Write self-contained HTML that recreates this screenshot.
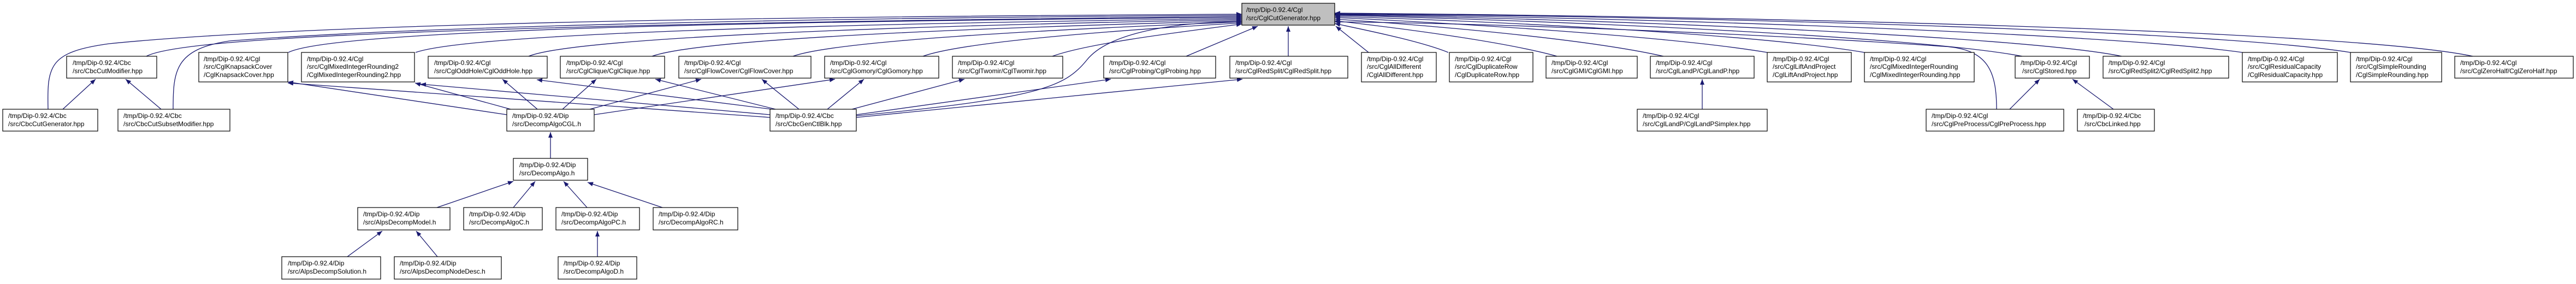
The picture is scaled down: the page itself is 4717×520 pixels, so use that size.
<!DOCTYPE html>
<html><head><meta charset="utf-8"><style>
html,body{margin:0;padding:0;background:#fff;width:4717px;height:520px;overflow:hidden}
svg{display:block}
text{font-family:"Liberation Sans",Arial,sans-serif;font-size:12px;fill:#000}
.e{fill:none;stroke:#191970;stroke-width:1.3}
.b{fill:#fff;stroke:#000;stroke-width:1.2}
</style></head><body>
<svg width="4717" height="520" viewBox="0 0 4717 520" xmlns="http://www.w3.org/2000/svg">
<defs><marker id="a" markerWidth="11" markerHeight="8" refX="10" refY="4" orient="auto" markerUnits="userSpaceOnUse"><path d="M0,0 L10,4 L0,8 z" fill="#191970"/></marker></defs>
<g class="e" marker-end="url(#a)">
<!-- edges to CglCutGenerator from left -->
<path d="M88,200 C86,120 90,95 200,80 C600,40 1500,30 2274,26"/>
<path d="M317,200 C317,130 320,90 420,75 C800,45 1600,32 2274,28"/>
<path d="M268,103 C330,70 800,45 2274,30"/>
<path d="M528,96 C600,60 1200,40 2274,32"/>
<path d="M761,96 C850,65 1400,45 2274,34"/>
<path d="M968,103 C1050,70 1600,48 2274,36"/>
<path d="M1194,103 C1280,72 1750,52 2274,38"/>
<path d="M1452,103 C1530,75 1900,55 2274,40"/>
<path d="M1690,103 C1760,78 2000,58 2274,42"/>
<path d="M1927,103 C1990,80 2150,60 2274,44"/>
<path d="M2172,103 L2303,48"/>
<path d="M2359,103 L2359,48"/>
<path d="M1568,212 C1900,180 1950,160 1990,110 C2030,60 2150,40 2274,40"/>
<!-- from right -->
<path d="M2506,96 L2446,48"/>
<path d="M2652,96 C2600,75 2500,55 2444,43"/>
<path d="M2851,103 C2750,75 2550,50 2444,38"/>
<path d="M3046,103 C2900,70 2600,45 2444,35"/>
<path d="M3236,96 C3050,65 2650,42 2444,32"/>
<path d="M3414,96 C3200,60 2700,38 2444,30"/>
<path d="M3703,103 C3500,65 2800,36 2444,28"/>
<path d="M3885,103 C3700,65 2900,34 2444,27"/>
<path d="M4106,96 C3850,60 3000,32 2444,26"/>
<path d="M4304,96 C4050,55 3100,30 2444,25"/>
<path d="M4528,103 C4300,55 3200,30 2444,24"/>
<path d="M3656,200 C3656,130 3640,90 3560,85 C3200,60 2700,42 2444,40"/>
<!-- CGL -->
<path d="M928,210 L527,150"/>
<path d="M935,200 L760,152"/>
<path d="M984,200 L920,145"/>
<path d="M1030,200 L1092,145"/>
<path d="M1080,200 L1284,145"/>
<path d="M1088,210 L1529,145"/>
<!-- GCB -->
<path d="M1410,215 L527,152"/>
<path d="M1410,210 L770,154"/>
<path d="M1413,200 L983,146"/>
<path d="M1420,200 L1200,145"/>
<path d="M1463,200 L1395,145"/>
<path d="M1515,200 L1582,145"/>
<path d="M1560,200 L1766,145"/>
<path d="M1568,210 L2034,145"/>
<path d="M1568,215 L2275,145"/>
<!-- misc -->
<path d="M115,200 L175,145"/>
<path d="M295,200 L230,145"/>
<path d="M3117,200 L3117,145"/>
<path d="M3680,200 L3735,145"/>
<path d="M3870,200 L3795,145"/>
<path d="M1008,290 L1008,242"/>
<path d="M800,380 L940,332"/>
<path d="M940,380 L980,332"/>
<path d="M1075,380 L1032,332"/>
<path d="M1213,380 L1076,334"/>
<path d="M636,470 L700,423"/>
<path d="M801,470 L762,423"/>
<path d="M1094,470 L1094,423"/>
</g>
<!-- nodes -->
<g>
<rect x="2274" y="6" width="170" height="40" fill="#bfbfbf" stroke="#000" stroke-width="1.2"/>
<text x="2282" y="22">/tmp/Dip-0.92.4/Cgl</text><text x="2282" y="37">/src/CglCutGenerator.hpp</text>
</g>
<g id="n">
<rect class="b" x="122" y="103" width="165" height="40"/><text x="133" y="119">/tmp/Dip-0.92.4/Cbc</text><text x="133" y="134">/src/CbcCutModifier.hpp</text>
<rect class="b" x="364" y="96" width="163" height="54"/><text x="373" y="112">/tmp/Dip-0.92.4/Cgl</text><text x="373" y="126">/src/CglKnapsackCover</text><text x="373" y="141">/CglKnapsackCover.hpp</text>
<rect class="b" x="552" y="96" width="207" height="54"/><text x="562" y="112">/tmp/Dip-0.92.4/Cgl</text><text x="562" y="126">/src/CglMixedIntegerRounding2</text><text x="562" y="141">/CglMixedIntegerRounding2.hpp</text>
<rect class="b" x="784" y="103" width="218" height="40"/><text x="795" y="119">/tmp/Dip-0.92.4/Cgl</text><text x="795" y="134">/src/CglOddHole/CglOddHole.hpp</text>
<rect class="b" x="1026" y="103" width="191" height="40"/><text x="1037" y="119">/tmp/Dip-0.92.4/Cgl</text><text x="1037" y="134">/src/CglClique/CglClique.hpp</text>
<rect class="b" x="1243" y="103" width="242" height="40"/><text x="1253" y="119">/tmp/Dip-0.92.4/Cgl</text><text x="1253" y="134">/src/CglFlowCover/CglFlowCover.hpp</text>
<rect class="b" x="1510" y="103" width="209" height="40"/><text x="1520" y="119">/tmp/Dip-0.92.4/Cgl</text><text x="1520" y="134">/src/CglGomory/CglGomory.hpp</text>
<rect class="b" x="1744" y="103" width="202" height="40"/><text x="1754" y="119">/tmp/Dip-0.92.4/Cgl</text><text x="1754" y="134">/src/CglTwomir/CglTwomir.hpp</text>
<rect class="b" x="2021" y="103" width="205" height="40"/><text x="2031" y="119">/tmp/Dip-0.92.4/Cgl</text><text x="2031" y="134">/src/CglProbing/CglProbing.hpp</text>
<rect class="b" x="2252" y="103" width="216" height="40"/><text x="2262" y="119">/tmp/Dip-0.92.4/Cgl</text><text x="2262" y="134">/src/CglRedSplit/CglRedSplit.hpp</text>
<rect class="b" x="2493" y="96" width="137" height="54"/><text x="2503" y="112">/tmp/Dip-0.92.4/Cgl</text><text x="2503" y="126">/src/CglAllDifferent</text><text x="2503" y="141">/CglAllDifferent.hpp</text>
<rect class="b" x="2654" y="96" width="153" height="54"/><text x="2664" y="112">/tmp/Dip-0.92.4/Cgl</text><text x="2664" y="126">/src/CglDuplicateRow</text><text x="2664" y="141">/CglDuplicateRow.hpp</text>
<rect class="b" x="2831" y="103" width="167" height="40"/><text x="2841" y="119">/tmp/Dip-0.92.4/Cgl</text><text x="2841" y="134">/src/CglGMI/CglGMI.hpp</text>
<rect class="b" x="3022" y="103" width="190" height="40"/><text x="3032" y="119">/tmp/Dip-0.92.4/Cgl</text><text x="3032" y="134">/src/CglLandP/CglLandP.hpp</text>
<rect class="b" x="3236" y="96" width="154" height="54"/><text x="3246" y="112">/tmp/Dip-0.92.4/Cgl</text><text x="3246" y="126">/src/CglLiftAndProject</text><text x="3246" y="141">/CglLiftAndProject.hpp</text>
<rect class="b" x="3414" y="96" width="201" height="54"/><text x="3424" y="112">/tmp/Dip-0.92.4/Cgl</text><text x="3424" y="126">/src/CglMixedIntegerRounding</text><text x="3424" y="141">/CglMixedIntegerRounding.hpp</text>
<rect class="b" x="3690" y="103" width="136" height="40"/><text x="3700" y="119">/tmp/Dip-0.92.4/Cgl</text><text x="3703" y="134">/src/CglStored.hpp</text>
<rect class="b" x="3851" y="103" width="230" height="40"/><text x="3861" y="119">/tmp/Dip-0.92.4/Cgl</text><text x="3861" y="134">/src/CglRedSplit2/CglRedSplit2.hpp</text>
<rect class="b" x="4106" y="96" width="174" height="54"/><text x="4116" y="112">/tmp/Dip-0.92.4/Cgl</text><text x="4116" y="126">/src/CglResidualCapacity</text><text x="4116" y="141">/CglResidualCapacity.hpp</text>
<rect class="b" x="4304" y="96" width="167" height="54"/><text x="4314" y="112">/tmp/Dip-0.92.4/Cgl</text><text x="4314" y="126">/src/CglSimpleRounding</text><text x="4314" y="141">/CglSimpleRounding.hpp</text>
<rect class="b" x="4495" y="103" width="217" height="40"/><text x="4505" y="119">/tmp/Dip-0.92.4/Cgl</text><text x="4505" y="134">/src/CglZeroHalf/CglZeroHalf.hpp</text>

<rect class="b" x="5" y="200" width="174" height="40"/><text x="15" y="216">/tmp/Dip-0.92.4/Cbc</text><text x="15" y="231">/src/CbcCutGenerator.hpp</text>
<rect class="b" x="216" y="200" width="205" height="40"/><text x="226" y="216">/tmp/Dip-0.92.4/Cbc</text><text x="226" y="231">/src/CbcCutSubsetModifier.hpp</text>
<rect class="b" x="928" y="200" width="160" height="40"/><text x="938" y="216">/tmp/Dip-0.92.4/Dip</text><text x="938" y="231">/src/DecompAlgoCGL.h</text>
<rect class="b" x="1410" y="200" width="158" height="40"/><text x="1420" y="216">/tmp/Dip-0.92.4/Cbc</text><text x="1420" y="231">/src/CbcGenCtlBlk.hpp</text>
<rect class="b" x="2998" y="200" width="238" height="40"/><text x="3008" y="216">/tmp/Dip-0.92.4/Cgl</text><text x="3008" y="231">/src/CglLandP/CglLandPSimplex.hpp</text>
<rect class="b" x="3527" y="200" width="252" height="40"/><text x="3537" y="216">/tmp/Dip-0.92.4/Cgl</text><text x="3537" y="231">/src/CglPreProcess/CglPreProcess.hpp</text>
<rect class="b" x="3804" y="200" width="141" height="40"/><text x="3814" y="216">/tmp/Dip-0.92.4/Cbc</text><text x="3817" y="231">/src/CbcLinked.hpp</text>

<rect class="b" x="940" y="290" width="136" height="40"/><text x="951" y="306">/tmp/Dip-0.92.4/Dip</text><text x="951" y="321">/src/DecompAlgo.h</text>

<rect class="b" x="655" y="380" width="169" height="41"/><text x="665" y="396">/tmp/Dip-0.92.4/Dip</text><text x="665" y="411">/src/AlpsDecompModel.h</text>
<rect class="b" x="849" y="380" width="144" height="41"/><text x="859" y="396">/tmp/Dip-0.92.4/Dip</text><text x="859" y="411">/src/DecompAlgoC.h</text>
<rect class="b" x="1018" y="380" width="153" height="41"/><text x="1028" y="396">/tmp/Dip-0.92.4/Dip</text><text x="1028" y="411">/src/DecompAlgoPC.h</text>
<rect class="b" x="1196" y="380" width="155" height="41"/><text x="1206" y="396">/tmp/Dip-0.92.4/Dip</text><text x="1206" y="411">/src/DecompAlgoRC.h</text>

<rect class="b" x="516" y="470" width="181" height="41"/><text x="527" y="486">/tmp/Dip-0.92.4/Dip</text><text x="527" y="501">/src/AlpsDecompSolution.h</text>
<rect class="b" x="722" y="470" width="196" height="41"/><text x="732" y="486">/tmp/Dip-0.92.4/Dip</text><text x="732" y="501">/src/AlpsDecompNodeDesc.h</text>
<rect class="b" x="1022" y="470" width="144" height="41"/><text x="1032" y="486">/tmp/Dip-0.92.4/Dip</text><text x="1032" y="501">/src/DecompAlgoD.h</text>
</g>
</svg>
</body></html>
